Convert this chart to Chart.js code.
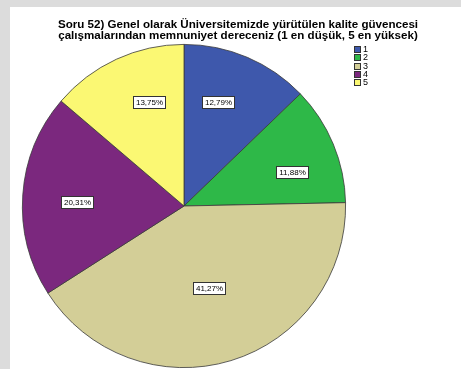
<!DOCTYPE html>
<html>
<head>
<meta charset="utf-8">
<script src="https://cdn.jsdelivr.net/npm/chart.js@4/dist/chart.umd.min.js"></script>
<style>
  html, body { margin: 0; padding: 0; background: #dcdcdc; }
  #wrap { width: 461px; height: 369px; position: relative; }
</style>
</head>
<body>
<div id="wrap"><canvas id="c" width="461" height="369"></canvas></div>
<script>
// Survey question 52: satisfaction with quality-assurance work (1 lowest, 5 highest)
const titleLines = [
  'Soru 52) Genel olarak Üniversitemizde yürütülen kalite güvencesi',
  'çalışmalarından memnuniyet dereceniz (1 en düşük, 5 en yüksek)'
];
const categories = ['1', '2', '3', '4', '5'];
const percentages = [12.79, 11.88, 41.27, 20.31, 13.75];
const sliceColors = ['#3e58ac', '#2eb848', '#d3ce97', '#7b287e', '#fbf873'];

// label placement along each slice: fraction of radius and small angular nudge (degrees)
const labelRadius = [0.68, 0.70, 0.53, 0.66, 0.68];
const labelShift = [-5, 5, 0, -2, 6];

const FONT = '"Liberation Sans", Arial, sans-serif';

const panelPlugin = {
  id: 'panel',
  beforeDraw(chart) {
    const ctx = chart.ctx;
    ctx.save();
    ctx.fillStyle = '#dcdcdc';
    ctx.fillRect(0, 0, chart.width, chart.height);
    ctx.fillStyle = '#ffffff';
    ctx.fillRect(10, 7, chart.width - 10, chart.height - 7);
    ctx.restore();
  }
};

const sliceLabels = {
  id: 'sliceLabels',
  afterDatasetsDraw(chart) {
    const ctx = chart.ctx;
    const arcs = chart.getDatasetMeta(0).data;
    ctx.save();
    ctx.font = '8px ' + FONT;
    ctx.textAlign = 'center';
    ctx.textBaseline = 'middle';
    arcs.forEach((arc, i) => {
      const p = arc.getProps(['x', 'y', 'startAngle', 'endAngle', 'outerRadius'], true);
      const a = (p.startAngle + p.endAngle) / 2 + labelShift[i] * Math.PI / 180;
      const r = p.outerRadius * labelRadius[i];
      const cx = p.x + Math.cos(a) * r;
      const cy = p.y + Math.sin(a) * r;
      const text = percentages[i].toFixed(2).replace('.', ',') + '%';
      const w = Math.round(ctx.measureText(text).width) + 5;
      const h = 12;
      const bx = Math.round(cx - w / 2) + 0.5;
      const by = Math.round(cy - h / 2) + 0.5;
      ctx.fillStyle = '#ffffff';
      ctx.fillRect(bx, by, w, h);
      ctx.strokeStyle = '#333333';
      ctx.lineWidth = 1;
      ctx.strokeRect(bx, by, w, h);
      ctx.fillStyle = '#000000';
      ctx.fillText(text, bx + w / 2, by + h / 2 + 0.5);
    });
    ctx.restore();
  }
};

const headerAndKey = {
  id: 'headerAndKey',
  afterDraw(chart) {
    const ctx = chart.ctx;
    ctx.save();
    ctx.fillStyle = '#000000';
    ctx.textAlign = 'center';
    ctx.textBaseline = 'alphabetic';
    ctx.font = 'bold 11.6px ' + FONT;
    ctx.fillText(titleLines[0], 238, 28);
    ctx.fillText(titleLines[1], 238, 39);

    ctx.font = '9px ' + FONT;
    ctx.textAlign = 'left';
    ctx.textBaseline = 'middle';
    categories.forEach((c, i) => {
      const y = 46 + i * 8.3;
      ctx.fillStyle = sliceColors[i];
      ctx.fillRect(354, Math.round(y), 7, 7);
      ctx.strokeStyle = '#333333';
      ctx.lineWidth = 1;
      ctx.strokeRect(354.5, Math.round(y) + 0.5, 6, 6);
      ctx.fillStyle = '#000000';
      ctx.fillText(c, 363, Math.round(y) + 4);
    });
    ctx.restore();
  }
};

new Chart(document.getElementById('c'), {
  type: 'pie',
  data: {
    labels: categories,
    datasets: [{
      data: percentages,
      backgroundColor: sliceColors,
      borderColor: '#3a3a3a',
      borderWidth: 0.8
    }]
  },
  options: {
    responsive: false,
    animation: false,
    layout: { padding: { left: 22, top: 44, right: 115, bottom: 1 } },
    plugins: {
      legend: { display: false },
      tooltip: { enabled: false },
      title: { display: false }
    }
  },
  plugins: [panelPlugin, sliceLabels, headerAndKey]
});
</script>
</body>
</html>
